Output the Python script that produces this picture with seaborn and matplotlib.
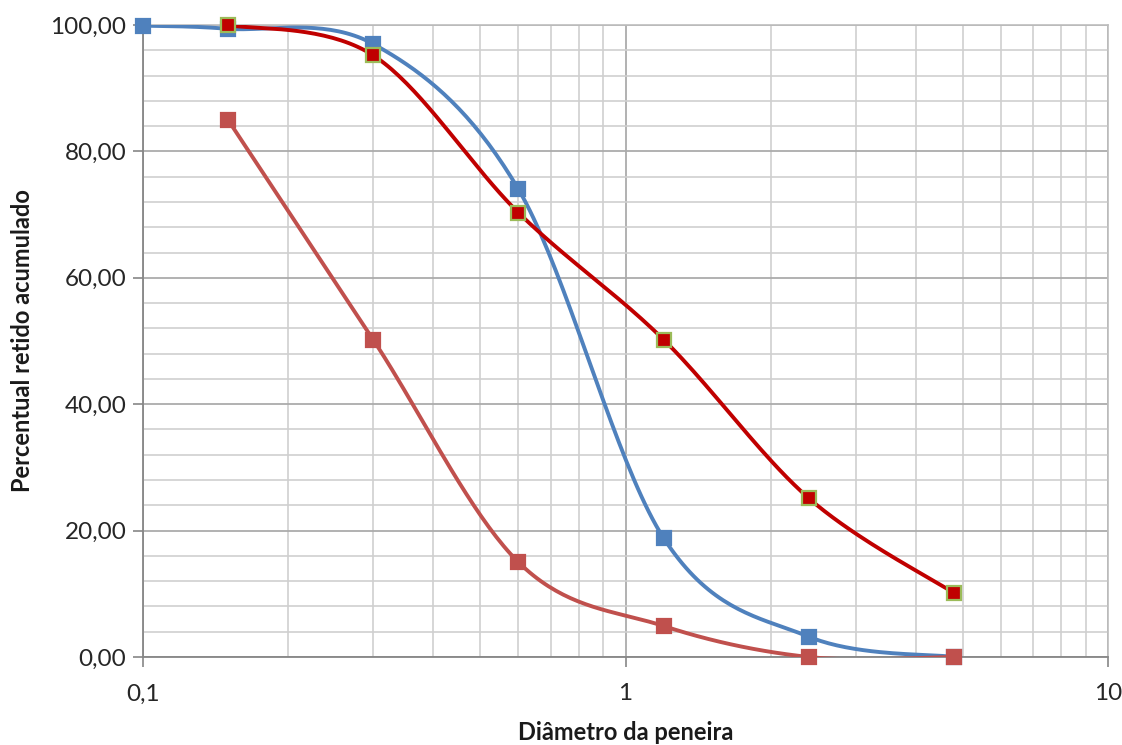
import numpy as np
import pandas as pd
import matplotlib
matplotlib.use("Agg")
import matplotlib.pyplot as plt
import seaborn as sns
from matplotlib.ticker import FixedLocator, FuncFormatter, NullFormatter, MultipleLocator

# ---- data ----
sieve_blue = [0.1, 0.15, 0.3, 0.6, 1.2, 2.4, 4.8]
ret_blue = [99.9, 99.4, 97.0, 74.0, 18.8, 3.2, 0.0]

sieve_dark = [0.15, 0.3, 0.6, 1.2, 2.4, 4.8]
ret_dark = [100.0, 95.2, 70.3, 50.2, 25.1, 10.1]

sieve_light = [0.15, 0.3, 0.6, 1.2, 2.4, 4.8]
ret_light = [85.0, 50.2, 15.0, 4.9, 0.0, 0.0]

x_ticks = [0.1, 1, 10]
x_tick_labels = ["0,1", "1", "10"]
y_ticks = [0, 20, 40, 60, 80, 100]

x_label = "Diâmetro da peneira"
y_label = "Percentual retido acumulado"


def smooth(xs, ys, n=40):
    """Excel-like smoothing (Catmull-Rom Bezier) in log-x / linear-y space."""
    lx = np.log10(np.asarray(xs, float))
    y = np.asarray(ys, float)
    P = np.column_stack([lx, y])
    m = len(P)
    out = []
    for i in range(m - 1):
        p0 = P[i - 1] if i > 0 else P[i]
        p1 = P[i]
        p2 = P[i + 1]
        p3 = P[i + 2] if i + 2 < m else P[i + 1]
        c1 = p1 + (p2 - p0) / 6.0
        c2 = p2 - (p3 - p1) / 6.0
        t = np.linspace(0, 1, n)[:, None]
        seg = ((1 - t) ** 3) * p1 + 3 * ((1 - t) ** 2) * t * c1 + 3 * (1 - t) * t ** 2 * c2 + t ** 3 * p2
        if i > 0:
            seg = seg[1:]
        out.append(seg)
    out = np.vstack(out)
    return 10 ** out[:, 0], out[:, 1]


sns.set_theme(style="white")
plt.rcParams["font.family"] = ["Lato", "DejaVu Sans"]

fig = plt.figure(figsize=(11.22, 7.45), dpi=100)
ax = fig.add_axes([143 / 1122, 88 / 745, 965 / 1122, 632 / 745])

blue = "#4F81BD"
light = "#C0504D"
dark = "#C00000"
green = "#9BBB59"

series = [
    (sieve_blue, ret_blue, blue, blue, 10.5, 3),
    (sieve_light, ret_light, light, light, 10.5, 4),
    (sieve_dark, ret_dark, dark, green, 9.5, 5),
]
for xs, ys, col, edge, ms, z in series:
    sx, sy = smooth(xs, ys)
    df = pd.DataFrame({"x": sx, "y": sy})
    sns.lineplot(data=df, x="x", y="y", sort=False, estimator=None, ax=ax,
                 color=col, lw=2.8, zorder=z)
    ax.plot(xs, ys, linestyle="none", marker="s", markersize=ms,
            markerfacecolor=col, markeredgecolor=edge, markeredgewidth=1.6,
            zorder=z + 0.5, clip_on=False)

ax.set_xscale("log")
ax.set_xlim(0.1, 10)
ax.set_ylim(0, 100)

ax.xaxis.set_major_locator(FixedLocator(x_ticks))
ax.xaxis.set_major_formatter(FuncFormatter(lambda v, p: x_tick_labels[x_ticks.index(v)] if v in x_ticks else ""))
minor_x = [m * 10.0 ** k for k in (-1, 0) for m in range(2, 10)]
ax.xaxis.set_minor_locator(FixedLocator(minor_x))
ax.xaxis.set_minor_formatter(NullFormatter())

ax.yaxis.set_major_locator(FixedLocator(y_ticks))
ax.yaxis.set_major_formatter(FuncFormatter(lambda v, p: f"{v:.2f}".replace(".", ",")))
ax.yaxis.set_minor_locator(MultipleLocator(4))

ax.grid(True, which="major", color="#ABABAB", lw=1.3, zorder=0)
ax.grid(True, which="minor", color="#CFCFCF", lw=1.2, zorder=0)
ax.set_axisbelow(True)

for s in ["top", "right"]:
    ax.spines[s].set_color("#BDBDBD")
    ax.spines[s].set_linewidth(1.2)
for s in ["left", "bottom"]:
    ax.spines[s].set_color("#868686")
    ax.spines[s].set_linewidth(1.3)

ax.tick_params(axis="both", which="major", direction="out", length=7, width=1.2,
               color="#868686", labelsize=17.5, labelcolor="#262626", pad=5,
               bottom=True, left=True)
ax.tick_params(axis="both", which="minor", length=0)
ax.tick_params(axis="x", which="major", pad=12)

ax.set_xlabel(x_label, fontsize=17, fontweight="bold", color="#1a1a1a", labelpad=12)
ax.set_ylabel(y_label, fontsize=17, fontweight="bold", color="#1a1a1a", labelpad=12)

fig.savefig("out.png", dpi=100, facecolor="white")
